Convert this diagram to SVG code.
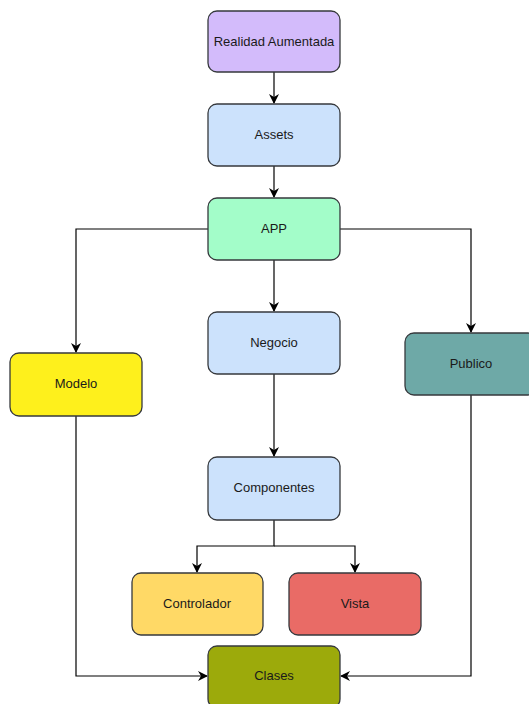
<svg xmlns="http://www.w3.org/2000/svg" width="529" height="704" viewBox="0 0 529 704">
<style>
.n rect{stroke:#36393d;stroke-width:1.3}
.n text{font-family:"Liberation Sans",Arial,sans-serif;font-size:13px;fill:#1a1a1a;text-anchor:middle;dominant-baseline:central}
.e path{fill:none;stroke:#000;stroke-width:1.2}
</style>
<defs>
<marker id="a" viewBox="0 0 10 10" refX="9" refY="5" markerWidth="10" markerHeight="10" markerUnits="userSpaceOnUse" orient="auto">
<path d="M0,0 L10,5 L0,10 L3,5 Z" fill="#000"/>
</marker>
</defs>
<rect width="529" height="704" fill="#fff"/>
<g class="e">
<path d="M274,72 V103" marker-end="url(#a)"/>
<path d="M274,166 V197" marker-end="url(#a)"/>
<path d="M274,260 V311" marker-end="url(#a)"/>
<path d="M208,229 H76 V352" marker-end="url(#a)"/>
<path d="M340,229 H471 V332" marker-end="url(#a)"/>
<path d="M274,374 V456" marker-end="url(#a)"/>
<path d="M274,520 V546 H197 V572" marker-end="url(#a)"/>
<path d="M274,546 H355 V572" marker-end="url(#a)"/>
<path d="M76,416 V676 H207" marker-end="url(#a)"/>
<path d="M471,395 V676 H341" marker-end="url(#a)"/>
</g>
<g class="n" id="realidad"><rect x="208" y="11" width="132" height="61" rx="9" fill="#d3bbfb"/><text x="274" y="41">Realidad Aumentada</text></g>
<g class="n" id="assets"><rect x="208" y="104" width="132" height="62" rx="9" fill="#cce2fc"/><text x="274" y="134">Assets</text></g>
<g class="n" id="app"><rect x="208" y="198" width="132" height="62" rx="9" fill="#a3fdc9"/><text x="274" y="228">APP</text></g>
<g class="n" id="negocio"><rect x="208" y="312" width="132" height="62" rx="9" fill="#cce2fc"/><text x="274" y="342">Negocio</text></g>
<g class="n" id="modelo"><rect x="10" y="353" width="132" height="63" rx="9" fill="#fef01c"/><text x="76" y="383">Modelo</text></g>
<g class="n" id="publico"><rect x="405" y="333" width="132" height="62" rx="9" fill="#6ea9a7"/><text x="471" y="363">Publico</text></g>
<g class="n" id="componentes"><rect x="208" y="457" width="132" height="63" rx="9" fill="#cce2fc"/><text x="274" y="487">Componentes</text></g>
<g class="n" id="controlador"><rect x="132" y="573" width="131" height="62" rx="9" fill="#ffd966"/><text x="197" y="603">Controlador</text></g>
<g class="n" id="vista"><rect x="289" y="573" width="132" height="62" rx="9" fill="#e96b66"/><text x="355" y="603">Vista</text></g>
<g class="n" id="clases"><rect x="208" y="646" width="132" height="62" rx="9" fill="#9caa0b"/><text x="274" y="675">Clases</text></g>
</svg>
